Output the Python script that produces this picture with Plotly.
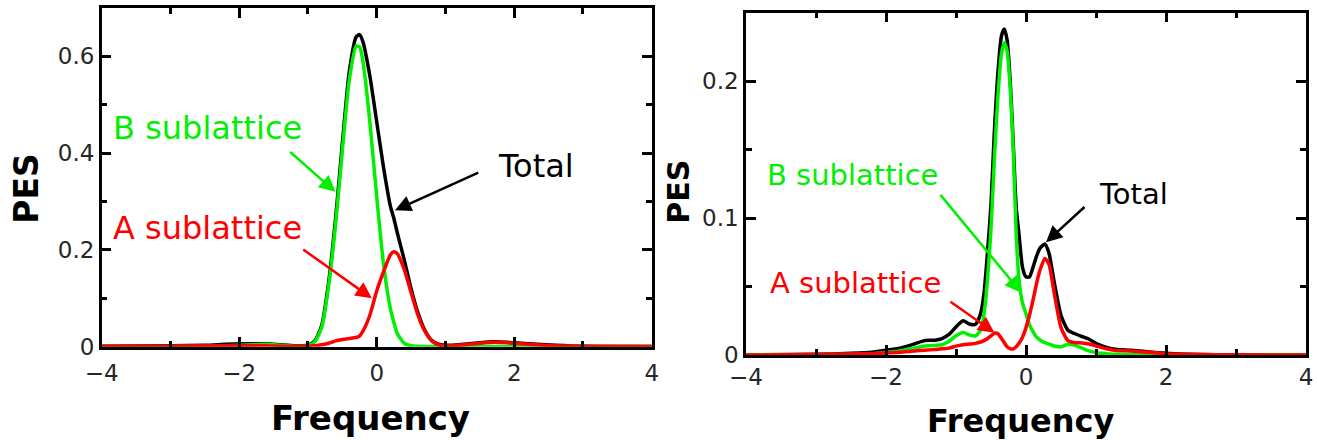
import plotly.graph_objects as go

# figure fills the whole 1317x440 page (body margin removed via post_script)
OFF = 0
W, H = 1317 - OFF, 440 - OFF

# ---------------- Left panel data ----------------
x_left = [-4.0, -3.0, -2.5, -2.2, -2.0, -1.8, -1.6, -1.4, -1.2, -1.1, -1.0, -0.9, -0.8, -0.7,
          -0.6, -0.5, -0.4, -0.3, -0.25, -0.2, -0.1, 0.0, 0.1, 0.2, 0.25, 0.3, 0.4, 0.5, 0.6,
          0.7, 0.8, 0.9, 1.0, 1.2, 1.5, 1.7, 1.9, 2.2, 2.6, 3.0, 4.0]
total_left = [0.001, 0.002, 0.003, 0.005, 0.006, 0.006, 0.006, 0.004, 0.002, 0.002, 0.003, 0.012,
              0.044, 0.132, 0.262, 0.42, 0.567, 0.64, 0.645, 0.63, 0.56, 0.465, 0.37, 0.29, 0.265,
              0.235, 0.18, 0.12, 0.07, 0.034, 0.013, 0.005, 0.003, 0.004, 0.008, 0.01, 0.009, 0.006,
              0.003, 0.001, 0.0005]
b_left = [0.0005, 0.0005, 0.001, 0.002, 0.003, 0.004, 0.005, 0.003, 0.001, 0.001, 0.002, 0.01,
          0.04, 0.125, 0.25, 0.405, 0.55, 0.621, 0.62, 0.59, 0.465, 0.31, 0.17, 0.078, 0.05,
          0.027, 0.007, 0.002, 0.001, 0.0005, 0.0005, 0.0005, 0.0005, 0.0005, 0.0005, 0.0005,
          0.0005, 0.0005, 0.0005, 0.0005, 0.0005]
a_left = [0.001, 0.001, 0.002, 0.002, 0.002, 0.002, 0.002, 0.001, 0.001, 0.001, 0.001, 0.002,
          0.004, 0.007, 0.012, 0.015, 0.017, 0.019, 0.022, 0.032, 0.065, 0.115, 0.155, 0.19,
          0.196, 0.192, 0.16, 0.112, 0.065, 0.032, 0.012, 0.004, 0.002, 0.003, 0.007, 0.009,
          0.008, 0.005, 0.002, 0.001, 0.0005]

# ---------------- Right panel data ----------------
x_right = [-4.0, -3.0, -2.5, -2.2, -2.0, -1.8, -1.6, -1.45, -1.3, -1.2, -1.1, -1.0, -0.9, -0.8,
           -0.72, -0.65, -0.6, -0.55, -0.5, -0.45, -0.4, -0.35, -0.31, -0.27, -0.22, -0.18,
           -0.14, -0.1, -0.05, 0.0, 0.05, 0.1, 0.15, 0.2, 0.27, 0.33, 0.4, 0.5, 0.6, 0.7, 0.8,
           0.9, 1.0, 1.15, 1.3, 1.5, 1.7, 2.0, 2.3, 2.7, 3.0, 4.0]
total_right = [0.0, 0.0005, 0.0012, 0.002, 0.0035, 0.005, 0.008, 0.0105, 0.0108, 0.012, 0.015,
               0.0205, 0.025, 0.0225, 0.0225, 0.03, 0.045, 0.075, 0.11, 0.165, 0.207, 0.233,
               0.238, 0.23, 0.195, 0.152, 0.108, 0.088, 0.064, 0.057, 0.057, 0.064, 0.072, 0.078,
               0.081, 0.074, 0.054, 0.029, 0.018, 0.0155, 0.0135, 0.0115, 0.0085, 0.0055, 0.004,
               0.0035, 0.0025, 0.0012, 0.0006, 0.0002, 0.0001, 0.0]
b_right = [0.0, 0.0002, 0.0005, 0.001, 0.002, 0.003, 0.005, 0.0065, 0.007, 0.0075, 0.01, 0.014,
           0.0165, 0.0145, 0.014, 0.018, 0.03, 0.055, 0.092, 0.145, 0.19, 0.22, 0.228, 0.222,
           0.19, 0.147, 0.088, 0.055, 0.038, 0.03, 0.022, 0.017, 0.013, 0.011, 0.009, 0.008,
           0.0066, 0.006, 0.0078, 0.007, 0.005, 0.003, 0.0017, 0.001, 0.0005, 0.0003, 0.0002,
           0.0001, 0.0, 0.0, 0.0, 0.0]
a_right = [0.0, 0.0003, 0.0007, 0.001, 0.0015, 0.002, 0.003, 0.0035, 0.004, 0.0045, 0.005,
           0.0065, 0.0075, 0.008, 0.0085, 0.0095, 0.0105, 0.012, 0.014, 0.016, 0.0155, 0.012,
           0.009, 0.006, 0.0045, 0.0045, 0.006, 0.0085, 0.013, 0.02, 0.029, 0.04, 0.052, 0.062,
           0.0705, 0.066, 0.046, 0.02, 0.0105, 0.009, 0.0088, 0.008, 0.0066, 0.0045, 0.0032,
           0.003, 0.0022, 0.001, 0.0005, 0.0002, 0.0001, 0.0]

x_range = [-4, 4]
y_range_left = [0, 0.7]
y_range_right = [0, 0.25]

GREEN = "#00f000"
RED = "#ff0000"
BLACK = "#000000"
FONT = "DejaVu Sans"

fig = go.Figure()

def add_curves(xs, tot, b, a, xa, ya):
    for ys, col in ((tot, BLACK), (b, GREEN), (a, RED)):
        fig.add_trace(go.Scatter(x=xs, y=ys, mode="lines", xaxis=xa, yaxis=ya,
                                 line=dict(color=col, width=3.5, shape="spline", smoothing=0.6),
                                 showlegend=False, hoverinfo="skip"))

add_curves(x_left, total_left, b_left, a_left, "x", "y")
add_curves(x_right, total_right, b_right, a_right, "x2", "y2")

def px_x(p):
    return (p - OFF) / W

def px_y(p):
    return 1 - (p - OFF) / H

common = dict(showline=True, linewidth=2.5, linecolor="black", mirror="ticks",
              ticks="inside", ticklen=10, tickwidth=2.5, tickcolor="black",
              showgrid=False, zeroline=False, automargin=False,
              tickfont=dict(family=FONT, size=23, color="#262626"))
minor_x = dict(dtick=1, ticks="inside", ticklen=6, tickwidth=2.5, tickcolor="black")

fig.update_layout(
    width=W, height=H, template="none",
    paper_bgcolor="white", plot_bgcolor="white",
    margin=dict(l=0, r=0, t=0, b=0),
    xaxis=dict(domain=[px_x(101.7), px_x(651.7)], anchor="y", range=x_range, dtick=2, tick0=-4,
               minor=minor_x, ticklabelstandoff=4, **common),
    yaxis=dict(domain=[px_y(346.7), px_y(8)], anchor="x", range=y_range_left, dtick=0.2, tick0=0,
               minor=dict(dtick=0.1, ticks="inside", ticklen=6, tickwidth=2.5, tickcolor="black"),
               **common),
    xaxis2=dict(domain=[px_x(746), px_x(1306)], anchor="y2", range=x_range, dtick=2, tick0=-4,
                minor=minor_x, **common),
    yaxis2=dict(domain=[px_y(355), px_y(12.5)], anchor="x2", range=y_range_right, dtick=0.1, tick0=0,
                minor=dict(dtick=0.05, ticks="inside", ticklen=6, tickwidth=2.5, tickcolor="black"),
                **common),
)

# text labels (page pixel positions)
texts = [
    ("B sublattice", 207.5, 128.3, 32, GREEN, 0),
    ("A sublattice", 207.8, 227.5, 32, RED, 0),
    ("Total", 536.2, 166, 32, BLACK, 0),
    ("B sublattice", 852.2, 175.3, 29, GREEN, 0),
    ("A sublattice", 855, 282.5, 29, RED, 0),
    ("Total", 1133.3, 194.2, 29, BLACK, 0),
    ("<b>PES</b>", 25.8, 188, 33, BLACK, -90),
    ("<b>PES</b>", 678.7, 192, 30, BLACK, -90),
    ("<b>Frequency</b>", 370.5, 418, 34, BLACK, 0),
    ("<b>Frequency</b>", 1020, 421, 32, BLACK, 0),
]
for t, x, y, s, c, ang in texts:
    fig.add_annotation(text=t, x=px_x(x), y=px_y(y), xref="paper", yref="paper",
                       xanchor="center", yanchor="middle", showarrow=False, textangle=ang,
                       font=dict(family=FONT, size=s, color=c))

# arrows (data coordinates: tail -> head)
arrows = [
    ("x", "y", -1.28, 0.405, -0.60, 0.32, GREEN),
    ("x", "y", -1.09, 0.203, -0.07, 0.10, RED),
    ("x", "y", 1.50, 0.361, 0.265, 0.282, BLACK),
    ("x2", "y2", -1.24, 0.118, -0.07, 0.0456, GREEN),
    ("x2", "y2", -1.10, 0.0396, -0.45, 0.0163, RED),
    ("x2", "y2", 0.857, 0.109, 0.286, 0.0823, BLACK),
]
for xr, yr, tx, ty, hx, hy, c in arrows:
    fig.add_annotation(text="", x=hx, y=hy, xref=xr, yref=yr, ax=tx, ay=ty, axref=xr, ayref=yr,
                       showarrow=True, arrowhead=2, arrowsize=1.3, arrowwidth=2.5, arrowcolor=c,
                       standoff=0, startstandoff=0)

fig.write_html("out.html", config={"displayModeBar": False},
               post_script="document.body.style.margin='0';document.body.style.overflow='hidden';")
